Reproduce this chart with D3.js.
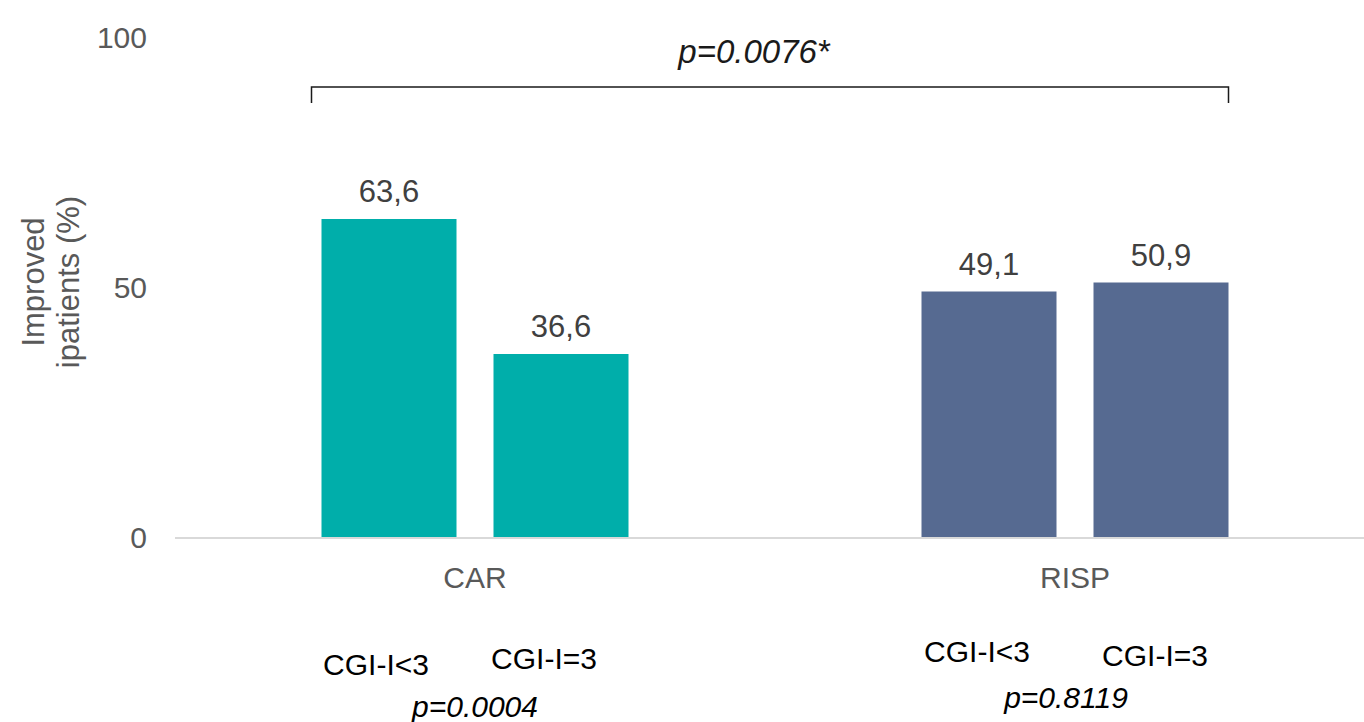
<!DOCTYPE html>
<html>
<head>
<meta charset="utf-8">
<script src="https://cdn.jsdelivr.net/npm/d3@7"></script>
<style>
  html, body { margin: 0; padding: 0; background: #fff; }
  svg { display: block; font-family: "Liberation Sans", Arial, sans-serif; }
</style>
</head>
<body>
<svg id="chart" width="1364" height="722"></svg>
<script>
// Improved patients (%) by treatment and CGI-I subgroup
const categories = ["CAR", "RISP"];
const subgroups = ["CGI-I<3", "CGI-I=3"];
const values = {
  "CAR":  [63.6, 36.6],
  "RISP": [49.1, 50.9]
};
const groupPValues = ["p=0.0004", "p=0.8119"];
const overallPValue = "p=0.0076*";
const yTicks = [0, 50, 100];
const yTitleLines = ["Improved", "ipatients (%)"];
const barColors = { "CAR": "#00AEAA", "RISP": "#566A91" };

const svg = d3.select("#chart");

const y = d3.scaleLinear().domain([0, 100]).range([537, 37]);
const x = d3.scaleBand().domain(categories).range([175, 1375]);
const barW = 135, barGap = 37;
const xs = d3.scaleBand().domain(subgroups)
  .range([0, barW * 2 + barGap])
  .paddingInner(barGap / (barW + barGap)).paddingOuter(0);
const groupOffset = (x.bandwidth() - (barW * 2 + barGap)) / 2;
const fmt = v => d3.format(".1f")(v).replace(".", ",");

// y tick labels (no axis line)
const yAxis = d3.axisLeft(y).tickValues(yTicks).tickSize(0).tickPadding(0);
const yg = svg.append("g").attr("transform", "translate(147,0)").call(yAxis);
yg.select(".domain").remove();
yg.selectAll("text")
  .attr("font-size", 30).attr("fill", "#595959")
  .attr("font-family", "'Liberation Sans', Arial, sans-serif")
  .attr("dy", "0.36em");

// y axis title, two rotated lines
const yt = svg.append("text")
  .attr("transform", "translate(44,282) rotate(-90)")
  .attr("text-anchor", "middle")
  .attr("font-size", 31).attr("fill", "#595959");
yTitleLines.forEach((t, i) => {
  yt.append("tspan").attr("x", 0).attr("dy", i === 0 ? 0 : 35).text(t);
});

// bars
const groups = svg.selectAll("g.cat").data(categories).join("g")
  .attr("class", "cat")
  .attr("transform", c => `translate(${x(c) + groupOffset},0)`);

groups.selectAll("rect").data(c => values[c].map((v, i) => ({ c, s: subgroups[i], v })))
  .join("rect")
  .attr("x", d => xs(d.s))
  .attr("width", xs.bandwidth())
  .attr("y", d => y(d.v))
  .attr("height", d => y(0) - y(d.v))
  .attr("fill", d => barColors[d.c]);

// value labels
groups.selectAll("text.val").data(c => values[c].map((v, i) => ({ c, s: subgroups[i], v })))
  .join("text")
  .attr("class", "val")
  .attr("x", d => xs(d.s) + xs.bandwidth() / 2)
  .attr("y", d => y(d.v) - 17)
  .attr("text-anchor", "middle")
  .attr("font-size", 31).attr("fill", "#404040")
  .text(d => fmt(d.v));

// baseline
svg.append("line")
  .attr("x1", 175).attr("x2", 1364)
  .attr("y1", y(0) + 1).attr("y2", y(0) + 1)
  .attr("stroke", "#d9d9d9").attr("stroke-width", 2);

// category labels
const xAxis = d3.axisBottom(x).tickSize(0).tickPadding(0);
const xg = svg.append("g").attr("transform", `translate(0,${y(0)})`).call(xAxis);
xg.select(".domain").remove();
xg.selectAll("text")
  .attr("font-size", 30).attr("fill", "#595959")
  .attr("font-family", "'Liberation Sans', Arial, sans-serif")
  .attr("dy", 0).attr("y", 51);

// significance bracket across both treatments
const bx1 = x("CAR") + groupOffset - 10;
const bx2 = x("RISP") + groupOffset + xs("CGI-I=3") + xs.bandwidth();
svg.append("path")
  .attr("d", `M${bx1},103 V87 H${bx2} V103`)
  .attr("fill", "none").attr("stroke", "#1a1a1a").attr("stroke-width", 1.5);
svg.append("text")
  .attr("x", (bx1 + bx2) / 2 - 16).attr("y", 63)
  .attr("text-anchor", "middle").attr("font-style", "italic")
  .attr("font-size", 33).attr("fill", "#1a1a1a")
  .text(overallPValue);

// subgroup annotations below each group
const subLabelPos = [
  { dx: [-99, 69], dy: [675, 669], py: 717, pdx: 0 },
  { dx: [-98, 80], dy: [662, 666], py: 708, pdx: -9 }
];
categories.forEach((c, ci) => {
  const cx = x(c) + x.bandwidth() / 2;
  const pos = subLabelPos[ci];
  subgroups.forEach((s, si) => {
    svg.append("text")
      .attr("x", cx + pos.dx[si]).attr("y", pos.dy[si])
      .attr("text-anchor", "middle")
      .attr("font-size", 30).attr("fill", "#000")
      .text(s);
  });
  svg.append("text")
    .attr("x", cx + pos.pdx).attr("y", pos.py)
    .attr("text-anchor", "middle").attr("font-style", "italic")
    .attr("font-size", 30).attr("fill", "#000")
    .text(groupPValues[ci]);
});
</script>
</body>
</html>
